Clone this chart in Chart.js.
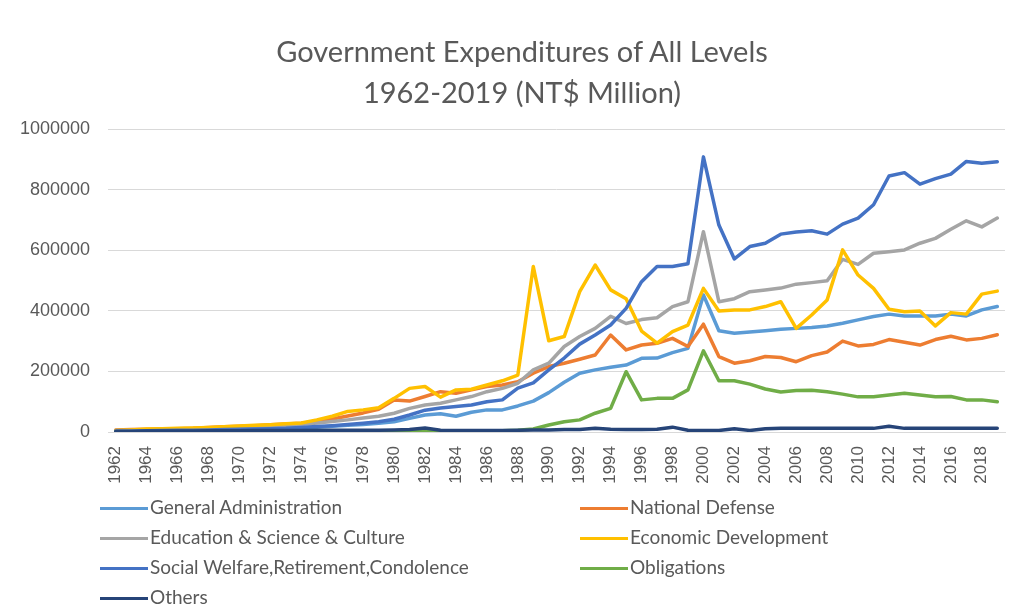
<!DOCTYPE html>
<html><head><meta charset="utf-8">
<script src="https://cdn.jsdelivr.net/npm/chart.js@4.4.1/dist/chart.umd.min.js"></script>
<style>
html,body{margin:0;padding:0;background:#fff;}
#wrap{position:relative;width:1019px;height:606px;overflow:hidden;background:#fff;}
#c{position:absolute;left:0;top:0;}
#title{position:absolute;left:0;width:1044px;top:30px;text-align:center;font-family:Lato,"Open Sans",sans-serif;font-size:29px;line-height:41px;color:#595959;}
.lg{position:absolute;font-family:Lato,"Open Sans",sans-serif;font-size:19px;color:#595959;white-space:nowrap;height:30px;line-height:30px;}
.lg .sw{display:inline-block;width:48px;height:3px;vertical-align:middle;margin-right:2px;position:relative;top:-1px;}
</style></head>
<body>
<div id="wrap">
<canvas id="c" width="1019" height="606"></canvas>
<div id="title">Government Expenditures of All Levels<br>1962-2019 (NT$ Million)</div>
<div id="legend"></div>
</div>
<script>
const years = [];
for (let y = 1962; y <= 2019; y++) years.push(String(y));

const chartTitle = ["Government Expenditures of All Levels", "1962-2019 (NT$ Million)"];
const yTicks = [0, 200000, 400000, 600000, 800000, 1000000];

const generalAdministration = [3000,3500,4000,4500,5000,5500,6500,7500,8500,9500,10500,12000,14000,16000,19000,22000,25000,29000,34000,45000,56000,60000,52000,65000,73000,73000,86000,102000,130000,164000,194000,205000,214000,221000,243000,244000,262000,276000,452000,334000,326000,330000,334000,339000,342000,345000,350000,359000,370000,381000,389000,383000,383000,383000,389000,383000,403000,414000];

const nationalDefense = [7000,8000,9000,10000,11000,12000,15000,17000,19000,21000,24000,26000,29000,35000,43000,53000,63000,75000,106000,102000,117000,133000,128000,139000,150000,155000,166000,194000,216000,227000,240000,254000,320000,271000,287000,293000,309000,282000,356000,249000,227000,235000,249000,246000,232000,252000,264000,300000,284000,289000,305000,296000,287000,305000,316000,304000,309000,321000];

const education = [5000,6000,7000,8000,9000,10000,12000,14000,16000,18000,20000,22000,25000,30000,35000,40000,46000,52000,62000,78000,89000,95000,106000,117000,133000,144000,161000,205000,227000,282000,315000,342000,382000,358000,371000,377000,414000,430000,661000,430000,440000,463000,469000,475000,488000,493000,499000,570000,553000,590000,595000,601000,623000,639000,669000,697000,677000,706000];

const economicDevelopment = [5000,7000,10000,11000,12000,13000,15000,17000,20000,22000,24000,27000,30000,40000,52000,68000,73000,80000,111000,144000,150000,115000,139000,141000,155000,169000,188000,546000,301000,315000,463000,551000,469000,440000,333000,293000,331000,353000,474000,399000,403000,403000,414000,430000,342000,386000,436000,601000,518000,474000,405000,397000,399000,350000,394000,389000,455000,465000];

const socialWelfare = [3000,3500,4000,5000,5500,6000,7000,8000,9000,10000,11000,12000,15000,18000,21000,25000,29000,34000,42000,56000,72000,79000,84000,89000,100000,106000,145000,162000,205000,244000,290000,320000,353000,408000,496000,546000,546000,555000,908000,683000,571000,612000,623000,653000,660000,664000,653000,686000,706000,750000,845000,856000,818000,836000,851000,893000,887000,892000];

const obligations = [1000,1000,1000,1000,1000,1000,1000,1000,1000,1000,1000,1000,1000,1000,1000,1000,1000,1000,1000,1000,2000,2000,2000,2000,3000,4000,6000,10000,23000,34000,40000,62000,78000,199000,106000,111000,111000,139000,268000,169000,169000,158000,142000,132000,137000,138000,133000,125000,116000,116000,122000,128000,122000,116000,117000,106000,106000,100000];

const others = [2000,2000,3000,3000,3000,3000,4000,4000,4000,5000,5000,5000,5000,6000,6000,6000,6000,6000,7000,8000,13000,6000,5000,5000,5000,5000,6000,7000,7000,8000,8000,12000,9000,8000,8000,9000,16000,6000,5000,5000,11000,5000,11000,12000,12000,12000,12000,12000,12000,12000,19000,12000,12000,12000,12000,12000,12000,12000];

const seriesNames = ["General Administration","National Defense","Education & Science & Culture","Economic Development","Social Welfare,Retirement,Condolence","Obligations","Others"];
const seriesData = [generalAdministration, nationalDefense, education, economicDevelopment, socialWelfare, obligations, others];
const seriesColors = ["#5B9BD5","#ED7D31","#A5A5A5","#FFC000","#4472C4","#70AD47","#264478"];

const datasets = seriesNames.map((n, i) => ({
  label: n,
  data: seriesData[i],
  borderColor: seriesColors[i],
  backgroundColor: seriesColors[i],
  borderWidth: 3.5,
  pointRadius: 0,
  tension: 0,
  fill: false,
  borderCapStyle: 'round',
  borderJoinStyle: 'round',
  order: seriesNames.length - i
}));

const grey = '#595959';
new Chart(document.getElementById('c'), {
  type: 'line',
  data: { labels: years, datasets },
  options: {
    responsive: false,
    animation: false,
    layout: { padding: { top: 129, right: 14, left: 0, bottom: 0 } },
    plugins: { legend: { display: false }, title: { display: false }, tooltip: { enabled: false } },
    scales: {
      x: {
        offset: true,
        grid: { display: false },
        border: { display: true, color: '#D9D9D9', width: 1 },
        ticks: {
          autoSkip: false, minRotation: 90, maxRotation: 90, padding: 6,
          color: grey, font: { family: '"Liberation Sans", Arial, sans-serif', size: 17 },
          callback: function(v, i) { return (Number(years[i]) % 2 === 0) ? years[i] : null; }
        },
        afterFit: function(s) { s.height = 174; }
      },
      y: {
        min: 0, max: 1000000,
        afterBuildTicks: function(s) { s.ticks = yTicks.map(v => ({ value: v })); },
        grid: { color: '#D9D9D9', lineWidth: 1, drawTicks: false },
        border: { display: false },
        ticks: {
          padding: 18, color: grey,
          font: { family: '"Liberation Sans", Arial, sans-serif', size: 18 },
          callback: function(v) { return String(v); }
        },
        afterFit: function(s) { s.width = 108; }
      }
    }
  }
});

// legend (two columns, like the original)
const lg = document.getElementById('legend');
const pos = [[100,492],[580,492],[100,522],[580,522],[100,552],[580,552],[100,582]];
seriesNames.forEach((n, i) => {
  const d = document.createElement('div');
  d.className = 'lg';
  d.style.left = pos[i][0] + 'px';
  d.style.top = pos[i][1] + 'px';
  const s = document.createElement('span');
  s.className = 'sw';
  s.style.background = seriesColors[i];
  d.appendChild(s);
  d.appendChild(document.createTextNode(n));
  lg.appendChild(d);
});
</script>
</body></html>
